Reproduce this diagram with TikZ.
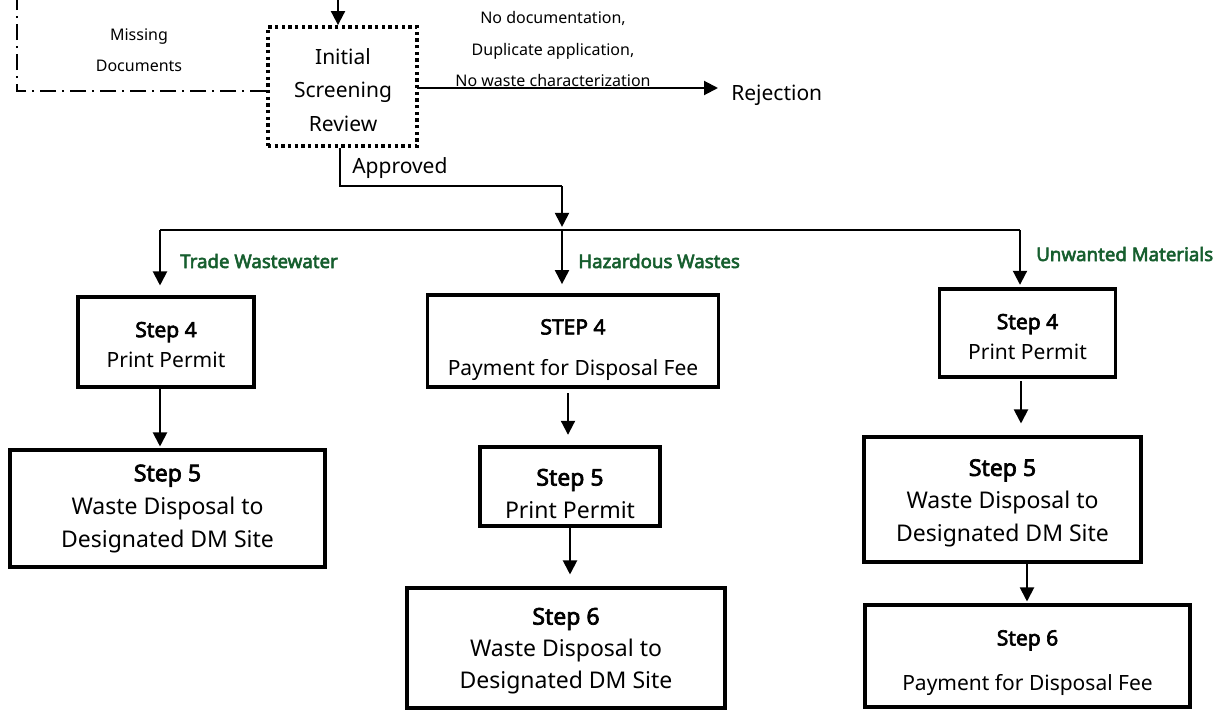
\documentclass[tikz,border=0pt]{standalone}
\usepackage{fontspec}
\setmainfont{Noto Sans}[BoldFont={Noto Sans}, BoldFeatures={FakeBold=3}]
\usetikzlibrary{arrows.meta}
\definecolor{lblgreen}{RGB}{22,94,46}
\newcommand{\fsz}[2]{\fontsize{#1}{#2}\selectfont}
\tikzset{
  box/.style={draw, line width=2.3pt, rectangle, inner sep=0pt},
  dotbox/.style={draw, line width=2.9pt, rectangle, inner sep=0pt, dash pattern=on 2.6pt off 2.4pt},
  arr/.style={line width=1.5pt, -{Triangle[length=10.5pt,width=10.5pt]}},
  plain/.style={line width=1.5pt},
  dashdot/.style={line width=1.5pt, dash pattern=on 12pt off 4.5pt on 1.5pt off 4.5pt},
  txt/.style={align=center, inner sep=0pt},
  green/.style={text=lblgreen, font=\fsz{14}{16}\bfseries, anchor=west, inner sep=0pt},
}
\begin{document}
\begin{tikzpicture}[x=0.75pt,y=-0.75pt]
\useasboundingbox (0,0) rectangle (1228,710);

% initial screening
\node[dotbox, minimum width=149*0.75pt, minimum height=119*0.75pt] (init) at (342.5,86.5) {};
\node[txt, font=\fsz{15.75}{25}] (initt) at (343,90) {Initial\\Screening\\Review};
\coordinate (topin) at (338,0);
\draw[arr] (topin) -- (topin |- init.north);

% missing documents loop
\coordinate (mdA) at (17,91);
\coordinate (mdB) at (17,0);
\draw[dashdot] (init.west |- mdA) -- (mdA) -- (mdB);
\node[txt, font=\fsz{12}{23}] (mdt) at (139,50) {Missing\\Documents};

% rejection
\node[anchor=west, inner sep=0pt, font=\fsz{15.75}{20}] (rej) at (731,95) {Rejection};
\coordinate (rejA) at (417,88);
\draw[arr] (rejA) -- (718,88);
\node[txt, font=\fsz{12}{23.5}] (rejt) at (553,49) {No documentation,\\Duplicate application,\\No waste characterization};

% approved
\coordinate (apA) at (340,186);
\coordinate (apB) at (562,186);
\coordinate (busM) at (562,230);
\draw[plain] (init.south -| apA) -- (apA) -- (apB);
\draw[arr] (apB) -- ([yshift=2.3pt]busM);
\node[anchor=west, inner sep=0pt, font=\fsz{15.75}{20}] (apt) at (352,168) {Approved};

% bus
\coordinate (busL) at (160,230);
\coordinate (busR) at (1020,230);
\draw[plain] (busL) -- (busR);

% boxes
\node[box, minimum width=176*0.75pt, minimum height=90*0.75pt] (tw4) at (166,342) {};
\node[txt, font=\fsz{15.75}{23}] at (166,345) {\bfseries Step 4\\Print Permit};
\node[box, minimum width=315*0.75pt, minimum height=117*0.75pt] (tw5) at (167.5,508.5) {};
\node[txt, font=\fsz{17.25}{25}] at (167.5,509) {\bfseries Step 5\\Waste Disposal to\\Designated DM Site};

\node[box, minimum width=291*0.75pt, minimum height=92*0.75pt] (hw4) at (573,341) {};
\node[txt, font=\fsz{15.75}{31}] at (573,350) {\bfseries STEP 4\\Payment for Disposal Fee};
\node[box, minimum width=180*0.75pt, minimum height=79*0.75pt] (hw5) at (570,486.5) {};
\node[txt, font=\fsz{17.25}{25}] at (570,494) {\bfseries Step 5\\Print Permit};
\node[box, minimum width=318*0.75pt, minimum height=120*0.75pt] (hw6) at (566,648) {};
\node[txt, font=\fsz{17.25}{24}] at (566,651) {\bfseries Step 6\\Waste Disposal to\\Designated DM Site};

\node[box, minimum width=176*0.75pt, minimum height=88*0.75pt] (um4) at (1027.5,333) {};
\node[txt, font=\fsz{15.75}{23}] at (1027.5,337) {\bfseries Step 4\\Print Permit};
\node[box, minimum width=277*0.75pt, minimum height=125*0.75pt] (um5) at (1002.5,499.5) {};
\node[txt, font=\fsz{17.25}{24.5}] at (1002.5,503) {\bfseries Step 5\\Waste Disposal to\\Designated DM Site};
\node[box, minimum width=325*0.75pt, minimum height=102*0.75pt] (um6) at (1027.5,656) {};
\node[txt, font=\fsz{15.75}{34}] at (1027.5,663) {\bfseries Step 6\\Payment for Disposal Fee};

% branch arrows
\draw[arr, shorten >=7.5pt] (busL) -- (busL |- tw4.north);
\draw[arr, shorten >=7pt] (busM) -- (busM |- hw4.north);
\draw[arr, shorten >=2pt] (busR) -- (busR |- um4.north);
\node[green] at (180,261) {Trade Wastewater};
\node[green] at (578,261) {Hazardous Wastes};
\node[green] at (1036,254) {Unwanted Materials};

% step arrows
\coordinate (twx) at (160,0);
\draw[arr, shorten >=1.5pt] (tw4.south -| twx) -- (tw5.north -| twx);
\coordinate (hwx) at (568,0);
\draw[arr, shorten <=3.5pt, shorten >=8pt] (hw4.south -| hwx) -- (hw5.north -| hwx);
\coordinate (hwy) at (570,0);
\draw[arr, shorten >=9pt] (hw5.south -| hwy) -- (hw6.north -| hwy);
\coordinate (umx) at (1021,0);
\draw[arr, shorten <=2pt, shorten >=9pt] (um4.south -| umx) -- (um5.north -| umx);
\coordinate (umy) at (1027,0);
\draw[arr, shorten >=1.5pt] (um5.south -| umy) -- (um6.north -| umy);
\end{tikzpicture}
\end{document}
